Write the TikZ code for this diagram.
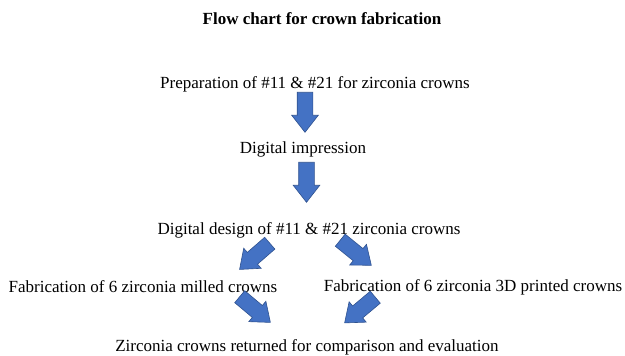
\documentclass[tikz,border=0pt]{standalone}
\usepackage{fontspec}
\setmainfont{Liberation Serif}
\usetikzlibrary{shapes.arrows}
\definecolor{arrowfill}{HTML}{4472C4}
\definecolor{arrowline}{HTML}{2F528F}
\tikzset{
  lbl/.style={inner sep=0pt, font=\fontsize{17}{20}\selectfont},
  ttl/.style={inner sep=0pt, font=\fontsize{17}{20}\selectfont\bfseries},
  blockarrow/.style={single arrow, fill=arrowfill, draw=arrowline, line width=0.6pt,
    inner sep=0pt, inner ysep=7.5pt, minimum height=40pt, single arrow head extend=5.5pt,
    single arrow tip angle=76, anchor=tail}
}
\begin{document}
\begin{tikzpicture}[x=1pt,y=1pt]
\useasboundingbox (0,0) rectangle (625,356);
\node[ttl] (title) at (322,337) {Flow chart for crown fabrication};
\node[lbl] (prep) at (315,272) {Preparation of \#11 \& \#21 for zirconia crowns};
\node[lbl] (imp) at (303,207) {Digital impression};
\node[lbl] (design) at (309,126) {Digital design of \#11 \& \#21 zirconia crowns};
\node[lbl] (mill) at (143,69) {Fabrication of 6 zirconia milled crowns};
\node[lbl] (print) at (473,69) {Fabrication of 6 zirconia 3D printed crowns};
\node[lbl] (ret) at (307,9) {Zirconia crowns returned for comparison and evaluation};
\node[blockarrow, rotate=-90] (a1) at (305,264) {};
\node[blockarrow, rotate=-90] (a2) at (306.5,194) {};
\node[blockarrow, rotate=221] (a3) at (270,113) {};
\node[blockarrow, rotate=-39] (a4) at (340,116) {};
\node[blockarrow, rotate=-40] (a5) at (239.5,59.5) {};
\node[blockarrow, rotate=220] (a6) at (375.5,59) {};
\end{tikzpicture}
\end{document}
